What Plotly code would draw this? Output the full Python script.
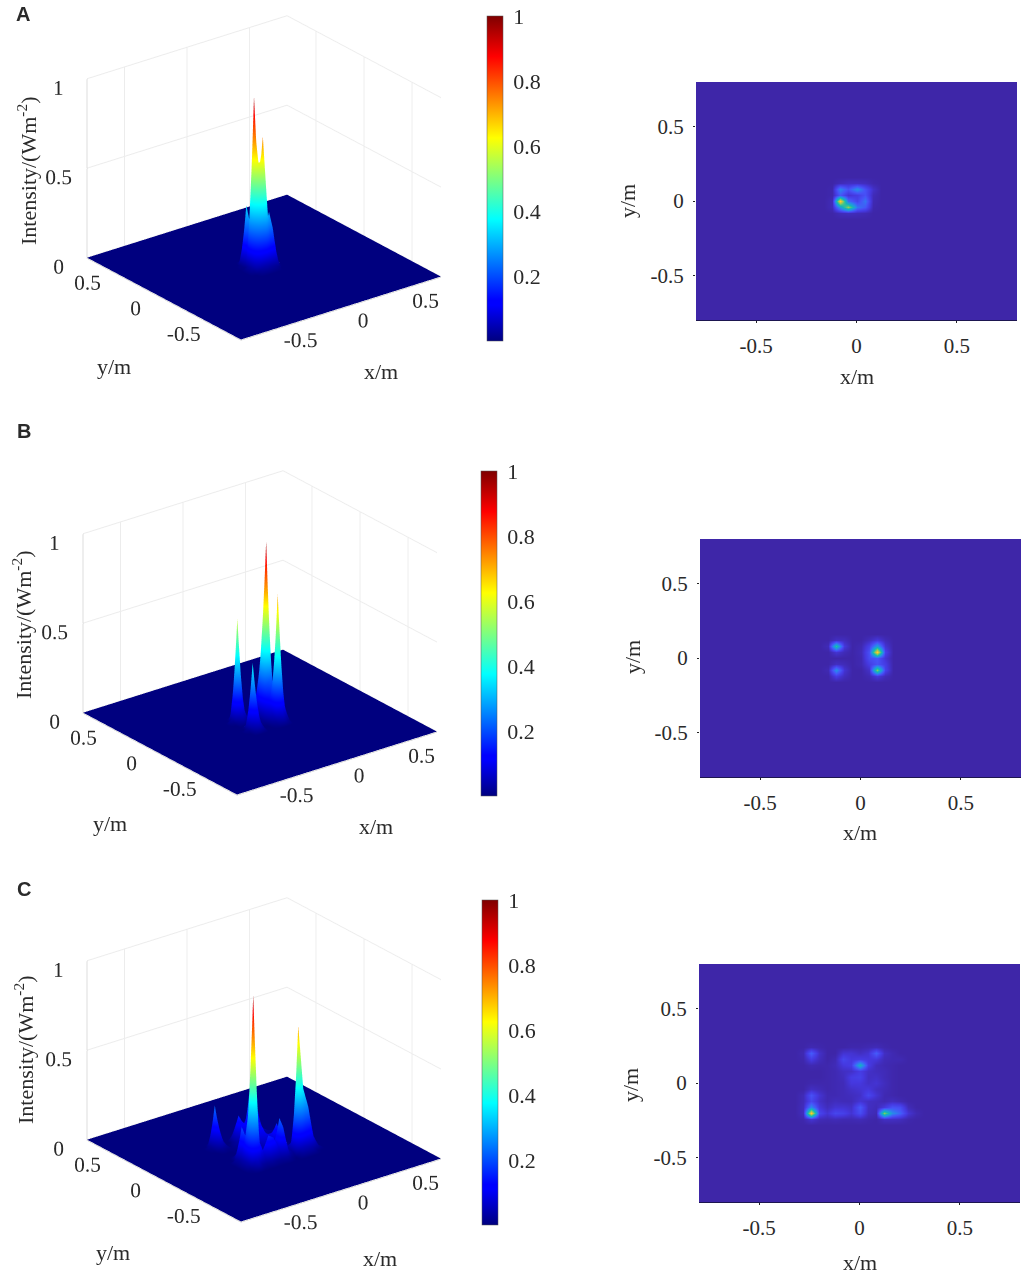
import numpy as np
import plotly.graph_objects as go

# Grid of the simulated plane (m), outside the core tables the intensity is 0
grid = [round(-0.8 + 0.04 * i, 2) for i in range(41)]

# Panel A, rows from top (largest y) to bottom
xA = [-0.12, -0.08, -0.04, 0, 0.04, 0.08]
yA = [0.12, 0.08, 0.04, 0, -0.04, -0.08]
zA = [
    [0, .03, .05, .05, .04, .01],
    [.01, .34, .20, .38, .20, .06],
    [.01, .22, .08, .12, .20, .03],
    [.03, .97, .28, .15, .30, .02],
    [.03, .40, .75, .30, .22, .01],
    [0, .03, .04, .03, .02, 0],
]

# Panel B
xB = [-0.16, -0.12, -0.08, -0.04, 0, 0.04, 0.08, 0.12]
yB = [0.12, 0.08, 0.04, 0, -0.04, -0.08, -0.12]
zB = [
    [0, .05, .04, 0, 0, .04, .10, .03],
    [.03, .58, .10, 0, .02, .14, .42, .08],
    [0, .08, .03, 0, .03, .20, .98, .14],
    [0, 0, 0, 0, .02, .18, .22, .08],
    [0, .05, .03, 0, .02, .12, .20, .12],
    [.02, .38, .08, 0, 0, .06, .72, .14],
    [0, .12, .04, 0, 0, .02, .10, .03],
]

# Panel C
xC = [-0.28, -0.24, -0.2, -0.16, -0.12, -0.08, -0.04, 0, 0.04, 0.08, 0.12, 0.16, 0.2, 0.24, 0.28]
yC = [0.24, 0.2, 0.16, 0.12, 0.08, 0.04, 0, -0.04, -0.08, -0.12, -0.16, -0.2, -0.24]
zC = [
    [0, .02, .01, 0, 0, 0, .01, .01, .02, .03, .01, 0, 0, 0, 0],
    [.02, .24, .06, 0, 0, .08, .08, .05, .08, .24, .05, .02, 0, 0, 0],
    [.01, .12, .04, 0, .02, .16, .10, .12, .10, .10, .03, .02, .02, 0, 0],
    [0, .02, .01, .01, .03, .10, .12, .50, .12, .04, .02, .01, 0, 0, 0],
    [0, 0, 0, .01, .02, .05, .06, .12, .06, .04, .03, .01, 0, 0, 0],
    [0, 0, 0, .01, .02, .04, .12, .14, .05, .06, .03, .01, 0, 0, 0],
    [0, .01, .01, .01, .02, .03, .10, .10, .06, .08, .04, .01, 0, 0, 0],
    [0, .05, .03, .01, .02, .03, .06, .08, .10, .05, .03, .01, 0, 0, 0],
    [.03, .20, .08, .02, .02, .03, .04, .06, .16, .08, .02, .01, 0, 0, 0],
    [.03, .16, .06, .02, .04, .03, .03, .08, .05, .04, .02, .04, .02, 0, 0],
    [.04, .35, .10, .04, .08, .08, .06, .22, .05, .03, .10, .20, .18, .03, 0],
    [.04, .97, .16, .08, .16, .14, .08, .18, .04, .02, .72, .36, .25, .08, .02],
    [.01, .08, .03, .02, .03, .02, .02, .03, .01, 0, .05, .05, .04, .01, 0],
]

tick_3d = [-0.5, 0, 0.5]
tick_z = [0, 0.5, 1]
tick_cb = [0.2, 0.4, 0.6, 0.8, 1]
labels = ["A", "B", "C"]

jet = [[0, "#00007f"], [0.11, "#0000ff"], [0.125, "#0000ff"], [0.375, "#00ffff"],
       [0.5, "#7fff7f"], [0.625, "#ffff00"], [0.875, "#ff0000"], [1, "#7f0000"]]
parula = [[0, "#3e26a8"], [0.1, "#4538e0"], [0.2, "#4653f8"], [0.3, "#2f7cf0"],
          [0.4, "#1f9dd8"], [0.5, "#12b5b7"], [0.6, "#3fc48d"], [0.7, "#8fcb5c"],
          [0.8, "#d3bd3d"], [0.9, "#fdc92f"], [1, "#f9fb15"]]

W, H = 1024, 1270
serif = "Liberation Serif"
txt = "#2a2a2a"
clear = "rgba(0,0,0,0)"


def full_grid(xs, ys, core):
    z = np.zeros((len(grid), len(grid)))
    for r, yv in enumerate(ys):
        for c, xv in enumerate(xs):
            z[grid.index(round(yv, 2)), grid.index(round(xv, 2))] = core[r][c]
    return z


def px(x):
    return x / W


def py(y):
    return 1 - y / H


panels = [
    # floor centre of 3d plot, colorbar left/top, heatmap box left/top, label pos
    dict(z=full_grid(xA, yA, zA), c3=(263.5, 178), cb=(487, 16), hm=(696, 82), lab=(23, 14),
         zt=(27, 171), yt=(114, 366), xt=(381, 372), hx=(857, 376), hy=(628, 201)),
    dict(z=full_grid(xB, yB, zB), c3=(259.5, 633), cb=(481, 471), hm=(700, 539), lab=(24, 431),
         zt=(22, 625), yt=(110, 823), xt=(376, 826), hx=(860, 832), hy=(632, 657)),
    dict(z=full_grid(xC, yC, zC), c3=(263.5, 1060), cb=(482, 900), hm=(699, 964), lab=(24, 889),
         zt=(24, 1050), yt=(113, 1252), xt=(380, 1258), hx=(860, 1262), hy=(630, 1085)),
]

fig = go.Figure()
layout = {}
annots = []
half_x, half_y = 260, 178
for i, p in enumerate(panels, start=1):
    scene = f"scene{i}" if i > 1 else "scene"
    cx, cy = p["c3"]
    fig.add_trace(go.Surface(
        x=grid, y=grid, z=p["z"], scene=scene, colorscale=jet, cmin=0, cmax=1,
        lighting=dict(ambient=1, diffuse=0, specular=0, roughness=1, fresnel=0),
        hoverinfo="skip",
        colorbar=dict(
            thickness=16, thicknessmode="pixels", len=325, lenmode="pixels",
            x=px(p["cb"][0]), xanchor="left", y=py(p["cb"][1]), yanchor="top",
            tickvals=tick_cb, ticktext=["0.2", "0.4", "0.6", "0.8", "1"],
            ticks="outside", ticklen=6, tickcolor=clear,
            tickfont=dict(family=serif, size=22, color=txt),
            outlinewidth=0.5, outlinecolor="#555", xpad=0, ypad=0,
        ),
    ))
    ax = dict(
        range=[-0.8, 0.8], tickvals=tick_3d, ticktext=["-0.5", "0", "0.5"], title=dict(text=""),
        showbackground=False, gridcolor="#ececec", showspikes=False, zeroline=False,
        showline=True, linecolor="#bbbbbb", ticks="outside", ticklen=18, tickcolor="#ffffff",
        tickangle=0, tickfont=dict(family=serif, size=16, color=txt),
    )
    layout[scene] = dict(
        domain=dict(x=[max(px(cx - half_x), 0), px(cx + half_x)], y=[py(cy + half_y), py(cy - half_y)]),
        xaxis=ax, yaxis=ax,
        # floor sits just under the zero level so its grid stays hidden by the surface
        zaxis=dict(ax, range=[-0.004, 1], tickvals=tick_z, ticktext=["0", "0.5", "1"], ticklen=6),
        aspectmode="manual", aspectratio=dict(x=1.418, y=1.418, z=1.106),
        camera=dict(projection=dict(type="orthographic"),
                    eye=dict(x=-0.557 * 1.9, y=-0.724 * 1.9, z=0.41 * 1.9),
                    center=dict(x=0, y=0, z=0), up=dict(x=0, y=0, z=1)),
    )

    # flat view of the same intensity table
    fig.add_trace(go.Heatmap(
        x=grid, y=grid, z=p["z"], xaxis=f"x{i}", yaxis=f"y{i}", colorscale=parula,
        zmin=0, zmax=1.05, zsmooth="best", showscale=False, hoverinfo="skip",
    ))
    left, top = p["hm"]
    tick_axis = dict(range=[-0.8, 0.8], tickvals=tick_3d, ticktext=["-0.5", "0", "0.5"],
                     showgrid=False, zeroline=False, ticks="outside", ticklen=2, tickcolor="#222222",
                     ticklabelstandoff=5, tickfont=dict(family=serif, size=21, color=txt))
    layout[f"xaxis{i}"] = dict(tick_axis, domain=[px(left), px(left + 321)], anchor=f"y{i}",
                               showline=True, linecolor="#1d1650", linewidth=1)
    layout[f"yaxis{i}"] = dict(tick_axis, domain=[py(top + 238), py(top)], anchor=f"x{i}", showline=False)

    def note(pos, text, angle=0, size=22, family=serif, weight=None):
        annots.append(dict(x=px(pos[0]), y=py(pos[1]), xref="paper", yref="paper", text=text,
                           xanchor="center", yanchor="middle", showarrow=False, textangle=angle,
                           font=dict(family=family, size=size, color=txt, weight=weight)))

    note(p["lab"], labels[i - 1], size=20, family="Liberation Sans", weight="bold")
    note(p["zt"], "Intensity/(Wm<sup>-2</sup>)", angle=-90)
    note(p["yt"], "y/m")
    note(p["xt"], "x/m")
    note(p["hx"], "x/m")
    note(p["hy"], "y/m", angle=-90)

fig.update_layout(width=W, height=H, margin=dict(l=0, r=0, t=0, b=0), showlegend=False,
                  paper_bgcolor="white", plot_bgcolor="white", annotations=annots, **layout)
# page margin would push the figure past the window edge
fig.write_html("out.html", post_script="document.body.style.margin='0';",
               config=dict(displayModeBar=False))
